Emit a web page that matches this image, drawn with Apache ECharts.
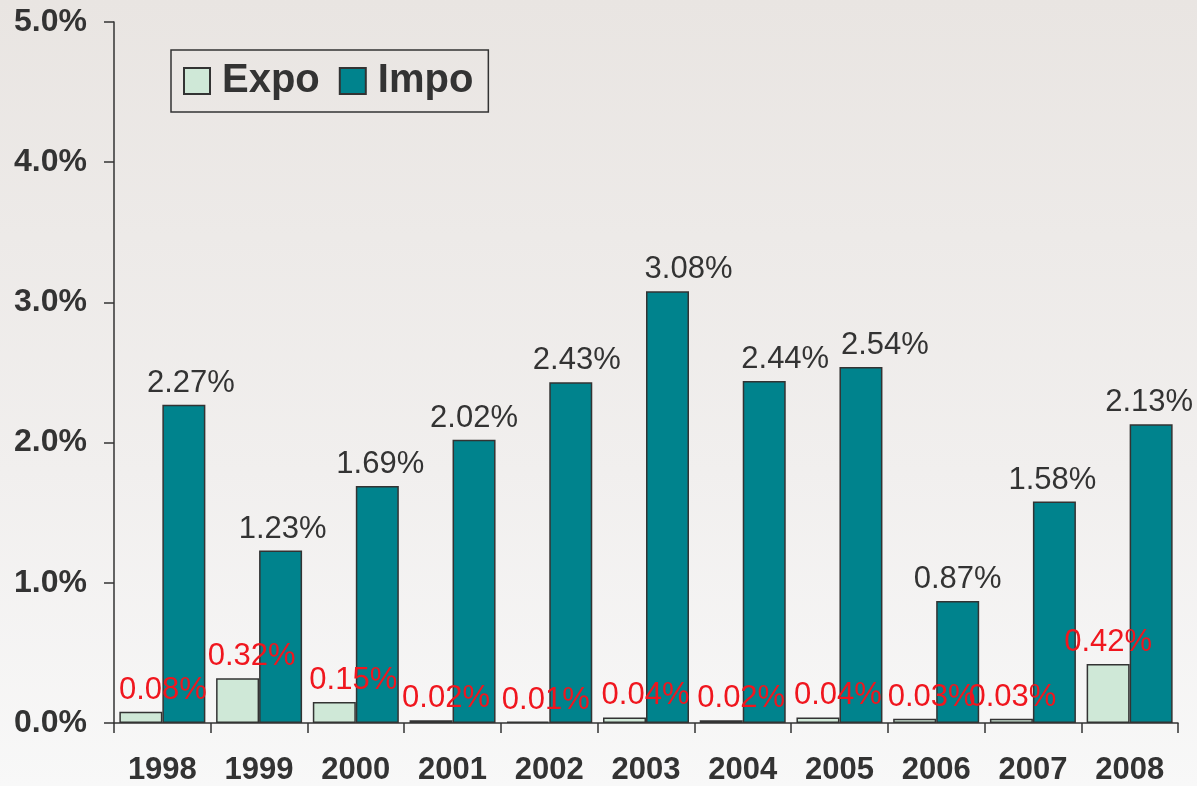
<!DOCTYPE html>
<html>
<head>
<meta charset="utf-8">
<script src="https://cdn.jsdelivr.net/npm/echarts@6/dist/echarts.min.js"></script>
<style>
  html, body { margin: 0; padding: 0; }
  body {
    width: 1197px;
    height: 786px;
    background: linear-gradient(to bottom, #e9e5e2 0%, #f1efee 60%, #f8f8f8 100%);
  }
  #chart { width: 1197px; height: 786px; }
</style>
</head>
<body>
<div id="chart"></div>
<script>
var years = ['1998', '1999', '2000', '2001', '2002', '2003', '2004', '2005', '2006', '2007', '2008']
var expo = [0.08, 0.32, 0.15, 0.02, 0.01, 0.04, 0.02, 0.04, 0.03, 0.03, 0.42]
var impo = [2.27, 1.23, 1.69, 2.02, 2.43, 3.08, 2.44, 2.54, 0.87, 1.58, 2.13]

// label nudges, as placed in the original (pixels)
var expoDx = [22, 14, 19, 15, 18, 21, 20, 20, 17, 1, 0]
var impoDx = [7, 2, 3, 0, 6, 21, 21, 24, 0, -2, -2]

var font = 'Liberation Sans, Arial, sans-serif'
var pct = function (p) { return p.value.toFixed(2) + '%' }

var myChart = echarts.init(document.getElementById('chart'))
var option = {
  animation: false,
  backgroundColor: 'transparent',
  grid: { left: 114, right: 19, top: 22, bottom: 62 },
  legend: {
    left: 171,
    top: 50,
    padding: [11, 15, 11, 12],
    itemWidth: 26,
    itemHeight: 26,
    itemGap: 19,
    icon: 'rect',
    borderColor: '#333',
    borderWidth: 1.5,
    textStyle: { fontFamily: font, fontSize: 40, fontWeight: 'bold', color: '#333', padding: [0, 0, 0, 7] },
    data: ['Expo', 'Impo']
  },
  xAxis: {
    type: 'category',
    data: years,
    axisLine: { lineStyle: { color: '#333', width: 1.5 } },
    axisTick: { show: true, length: 10, lineStyle: { color: '#333', width: 1.5 } },
    axisLabel: { fontFamily: font, fontSize: 31, fontWeight: 'bold', color: '#333', margin: 32 }
  },
  yAxis: {
    type: 'value',
    min: 0,
    max: 5,
    interval: 1,
    axisLine: { show: true, lineStyle: { color: '#333', width: 1.5 } },
    axisTick: { show: true, length: 10, lineStyle: { color: '#333', width: 1.5 } },
    splitLine: { show: false },
    axisLabel: {
      fontFamily: font, fontSize: 32, fontWeight: 'bold', color: '#333', margin: 27,
      formatter: function (v) { return v.toFixed(1) + '%' }
    }
  },
  series: [
    {
      name: 'Expo',
      type: 'bar',
      barWidth: 43,
      barGap: '0%',
      itemStyle: { color: '#cfe8d7', borderColor: '#333', borderWidth: 1.5 },
      label: {
        show: true, position: 'top', distance: 6,
        fontFamily: font, fontSize: 31, color: '#f0161e', formatter: pct
      },
      data: expo.map(function (v, i) {
        return { value: v, label: { offset: [expoDx[i], 0] } }
      })
    },
    {
      name: 'Impo',
      type: 'bar',
      barWidth: 43,
      itemStyle: { color: '#00838d', borderColor: '#333', borderWidth: 1.5 },
      label: {
        show: true, position: 'top', distance: 6,
        fontFamily: font, fontSize: 31, color: '#333', formatter: pct
      },
      data: impo.map(function (v, i) {
        return { value: v, label: { offset: [impoDx[i], 0] } }
      })
    }
  ]
}
myChart.setOption(option)
</script>
</body>
</html>
